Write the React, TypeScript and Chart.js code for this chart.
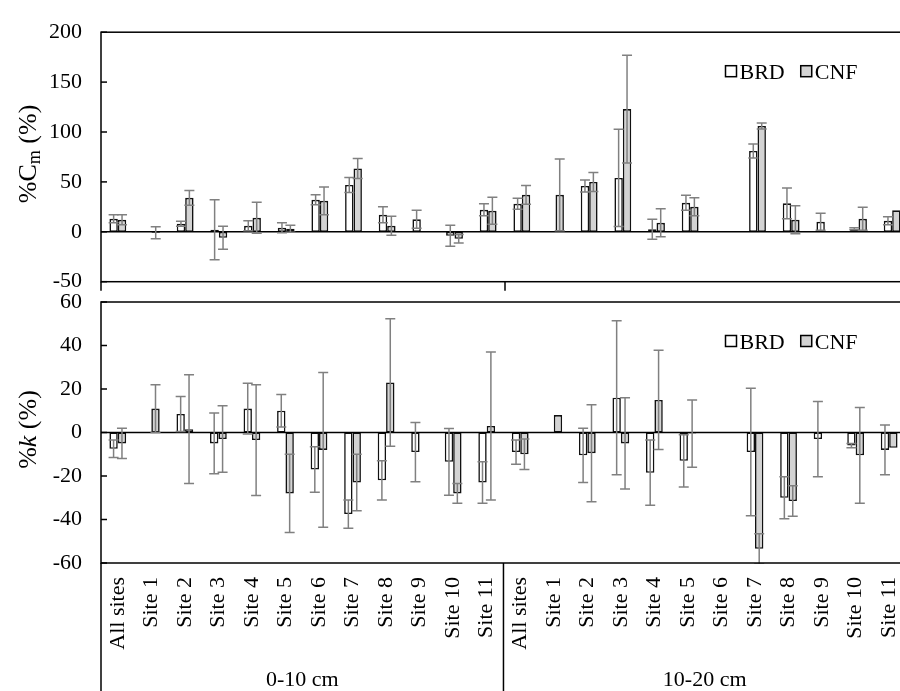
import React, { useEffect, useRef } from "react";
import { Chart, registerables } from "chart.js";

Chart.register(...registerables);

const FONT = "'Liberation Serif', 'Times New Roman', serif";

// ---- categories ----
const siteLabels = ["All sites", "Site 1", "Site 2", "Site 3", "Site 4", "Site 5", "Site 6", "Site 7", "Site 8", "Site 9", "Site 10", "Site 11"];
const depthGroups = ["0-10 cm", "10-20 cm"];
const categories = depthGroups.flatMap(() => siteLabels);
const seriesNames = ["BRD", "CNF"];

// ---- %Cm (%) ----
const cmBRD_0_10 = [13, null, 8, 2, 6, 4, 32, 47, 17, 12.5, -4, 22];
const cmBRDErr_0_10 = [4, null, 2.5, 30, 5, 5, 5, 7.5, 8, 9, 10.5, 6];
const cmCNF_0_10 = [12, -1, 34, -6, 14, 3, 31, 63.5, 6, null, -7, 21];
const cmCNFErr_0_10 = [5, 6, 7.5, 11.5, 15.5, 3.5, 14, 10, 9.5, null, 4.3, 13.5];
const cmBRD_10_20 = [28, null, 46, 54, 2.5, 29, null, 81, 28.5, 10, 3, 11];
const cmBRDErr_10_20 = [5.5, null, 6, 48.7, 10, 7.5, null, 7, 15.5, 8.5, 1, 4];
const cmCNF_10_20 = [37, 37, 50, 123, 9, 25, null, 106, 12, null, 13, 21.5];
const cmCNFErr_10_20 = [9.5, 36, 9.5, 54, 14, 9, null, 3, 14, null, 11.5, null];

// ---- %k (%) ----
const kBRD_0_10 = [-7.5, null, 8.5, -5, 11, 10, -17, -37.5, -22, -9, -13.5, -23];
const kBRDErr_0_10 = [4, null, 8, 14, 11.7, 7.5, 10.5, 6.5, 9, 13.6, 15.3, 9.5];
const kCNF_0_10 = [-5, 11, 1.5, -3, -3.5, -28, -8, -23, 23, null, -28, 3];
const kCNFErr_0_10 = [7, 11, 25, 15.3, 25.5, 18, 35.6, 13, 29.3, null, 4.5, 34];
const kBRD_10_20 = [-9, null, -10.5, 16, -18.5, -13, null, -9, -30, -3, -6, -8];
const kBRDErr_10_20 = [5.6, null, 12.5, 35.4, 15, 12, null, 29.3, 9.7, 17.3, 1, 11.4];
const kCNF_10_20 = [-10, 8, -9.5, -5, 15, -0.5, null, -53.5, -31.5, null, -10.5, -7];
const kCNFErr_10_20 = [7, null, 22.3, 21, 22.8, 15.5, null, 7, 7, null, 22, null];

// ---- axis ticks ----
const cmTicks = { min: -50, max: 200, step: 50 };
const kTicks = { min: -60, max: 60, step: 20 };

const W = 930;
const H = 691;
const BRD_FILL = "#ffffff";
const CNF_FILL = "#d3d3d3";

type TitlePart = { text: string; size: number; italic?: boolean; dy?: number };

function makePanelPlugin(cfg: { title: TitlePart[]; isBottom: boolean }) {
  return {
    id: "panel",
    afterDatasetsDraw(chart: any) {
      const { ctx, chartArea: ca, scales } = chart;
      const x = scales.x;
      const y = scales.y;
      ctx.save();

      // zero line
      const y0 = y.getPixelForValue(0);
      ctx.strokeStyle = "#000";
      ctx.lineWidth = 1.5;
      ctx.beginPath();
      ctx.moveTo(ca.left, y0);
      ctx.lineTo(ca.right, y0);
      ctx.stroke();

      // error bars
      ctx.save();
      ctx.beginPath();
      ctx.rect(ca.left, ca.top - 1, ca.right - ca.left, ca.bottom - ca.top + 2);
      ctx.clip();
      ctx.strokeStyle = "#808080";
      ctx.lineWidth = 1.5;
      chart.data.datasets.forEach((ds: any, i: number) => {
        const meta = chart.getDatasetMeta(i);
        meta.data.forEach((el: any, j: number) => {
          const v = ds.data[j];
          const e = ds.errors[j];
          if (v == null || e == null || e <= 0) return;
          const px = el.x;
          const yt = y.getPixelForValue(v + e);
          const yb = y.getPixelForValue(v - e);
          ctx.beginPath();
          ctx.moveTo(px, yt);
          ctx.lineTo(px, yb);
          ctx.moveTo(px - 5, yt);
          ctx.lineTo(px + 5, yt);
          ctx.moveTo(px - 5, yb);
          ctx.lineTo(px + 5, yb);
          ctx.stroke();
        });
      });
      ctx.restore();

      // frame
      ctx.strokeStyle = "#000";
      ctx.lineWidth = 1.5;
      ctx.strokeRect(ca.left, ca.top, ca.right - ca.left, ca.bottom - ca.top);

      // inward ticks
      y.ticks.forEach((t: any) => {
        const py = y.getPixelForValue(t.value);
        ctx.beginPath();
        ctx.moveTo(ca.left, py);
        ctx.lineTo(ca.left + 6, py);
        ctx.stroke();
      });

      // group dividers
      const bin = x.getPixelForValue(1) - x.getPixelForValue(0);
      const n = siteLabels.length;
      const bottomEnd = cfg.isBottom ? H : ca.bottom + 9;
      for (let g = 0; g <= depthGroups.length; g++) {
        const idx = Math.min(g * n, categories.length - 1);
        const px = g * n >= categories.length ? x.getPixelForValue(idx) + bin / 2 : x.getPixelForValue(idx) - bin / 2;
        ctx.beginPath();
        ctx.moveTo(px, ca.bottom);
        ctx.lineTo(px, bottomEnd);
        ctx.stroke();
      }

      // group labels
      if (cfg.isBottom) {
        ctx.fillStyle = "#000";
        ctx.font = `22px ${FONT}`;
        ctx.textAlign = "center";
        ctx.textBaseline = "alphabetic";
        depthGroups.forEach((lab, g) => {
          const a = x.getPixelForValue(g * n) - bin / 2;
          const b = x.getPixelForValue(g * n + n - 1) + bin / 2;
          ctx.fillText(lab, (a + b) / 2, 686);
        });
      }

      // legend
      const fills = [BRD_FILL, CNF_FILL];
      let lx = 725.5;
      const cy = ca.top + 39;
      ctx.font = `22px ${FONT}`;
      ctx.textAlign = "left";
      ctx.textBaseline = "alphabetic";
      chart.data.datasets.forEach((ds: any, i: number) => {
        ctx.fillStyle = fills[i];
        ctx.fillRect(lx, cy - 5.5, 11, 11);
        ctx.strokeStyle = "#000";
        ctx.lineWidth = 1.5;
        ctx.strokeRect(lx, cy - 5.5, 11, 11);
        ctx.fillStyle = "#000";
        ctx.fillText(ds.label, lx + 14, cy + 7.5);
        lx += 14 + ctx.measureText(ds.label).width + 16;
      });

      // y axis title
      const midY = (ca.top + ca.bottom) / 2 - 3;
      const fontFor = (p: TitlePart) => `${p.italic ? "italic " : ""}${p.size}px ${FONT}`;
      let total = 0;
      cfg.title.forEach((p) => {
        ctx.font = fontFor(p);
        total += ctx.measureText(p.text).width;
      });
      ctx.translate(36, midY);
      ctx.rotate(-Math.PI / 2);
      let tx = -total / 2;
      cfg.title.forEach((p) => {
        ctx.font = fontFor(p);
        ctx.fillText(p.text, tx, p.dy || 0);
        tx += ctx.measureText(p.text).width;
      });

      ctx.restore();
    },
  };
}

function buildConfig(
  brd: (number | null)[],
  brdErr: (number | null)[],
  cnf: (number | null)[],
  cnfErr: (number | null)[],
  ticks: { min: number; max: number; step: number },
  isBottom: boolean,
  title: TitlePart[]
): any {
  return {
    type: "bar",
    data: {
      labels: categories,
      datasets: [
        {
          label: seriesNames[0],
          data: brd,
          errors: brdErr,
          backgroundColor: BRD_FILL,
          borderColor: "#111",
          borderWidth: 1.6,
          borderSkipped: false,
        },
        {
          label: seriesNames[1],
          data: cnf,
          errors: cnfErr,
          backgroundColor: CNF_FILL,
          borderColor: "#111",
          borderWidth: 1.6,
          borderSkipped: false,
        },
      ],
    },
    options: {
      animation: false,
      responsive: false,
      devicePixelRatio: 1,
      layout: {
        padding: isBottom
          ? { left: 0, top: 302, right: 21, bottom: 0 }
          : { left: 0, top: 20, right: 21, bottom: H - 281.7 },
      },
      datasets: { bar: { categoryPercentage: 0.5, barPercentage: 1 } },
      plugins: { legend: { display: false }, tooltip: { enabled: false } },
      scales: {
        x: isBottom
          ? {
              offset: true,
              grid: { display: false, drawTicks: false },
              border: { display: false },
              ticks: {
                autoSkip: false,
                maxRotation: 90,
                minRotation: 90,
                padding: 14,
                color: "#000",
                font: { size: 22, family: FONT },
              },
              afterFit: (s: any) => {
                s.height = 128;
              },
            }
          : { display: false, offset: true },
        y: {
          min: ticks.min,
          max: ticks.max,
          grid: { display: false, drawTicks: false },
          border: { display: false },
          ticks: {
            stepSize: ticks.step,
            padding: 19,
            color: "#000",
            font: { size: 22, family: FONT },
          },
          afterFit: (s: any) => {
            s.width = 101;
          },
        },
      },
    },
    plugins: [makePanelPlugin({ title, isBottom })],
  };
}

export default function App() {
  const topRef = useRef<HTMLCanvasElement | null>(null);
  const botRef = useRef<HTMLCanvasElement | null>(null);

  useEffect(() => {
    const top = new Chart(
      topRef.current as HTMLCanvasElement,
      buildConfig(
        [...cmBRD_0_10, ...cmBRD_10_20],
        [...cmBRDErr_0_10, ...cmBRDErr_10_20],
        [...cmCNF_0_10, ...cmCNF_10_20],
        [...cmCNFErr_0_10, ...cmCNFErr_10_20],
        cmTicks,
        false,
        [
          { text: "%C", size: 26 },
          { text: "m", size: 18, dy: 4 },
          { text: " (%)", size: 26 },
        ]
      )
    );
    const bot = new Chart(
      botRef.current as HTMLCanvasElement,
      buildConfig(
        [...kBRD_0_10, ...kBRD_10_20],
        [...kBRDErr_0_10, ...kBRDErr_10_20],
        [...kCNF_0_10, ...kCNF_10_20],
        [...kCNFErr_0_10, ...kCNFErr_10_20],
        kTicks,
        true,
        [
          { text: "%", size: 26 },
          { text: "k", size: 26, italic: true },
          { text: " (%)", size: 26 },
        ]
      )
    );
    return () => {
      top.destroy();
      bot.destroy();
    };
  }, []);

  return (
    <div
      style={{
        position: "fixed",
        left: 0,
        top: 0,
        width: 900,
        height: H,
        overflow: "hidden",
        background: "#fff",
      }}
    >
      <canvas ref={topRef} width={W} height={H} style={{ position: "absolute", left: 0, top: 0 }} />
      <canvas ref={botRef} width={W} height={H} style={{ position: "absolute", left: 0, top: 0 }} />
    </div>
  );
}
